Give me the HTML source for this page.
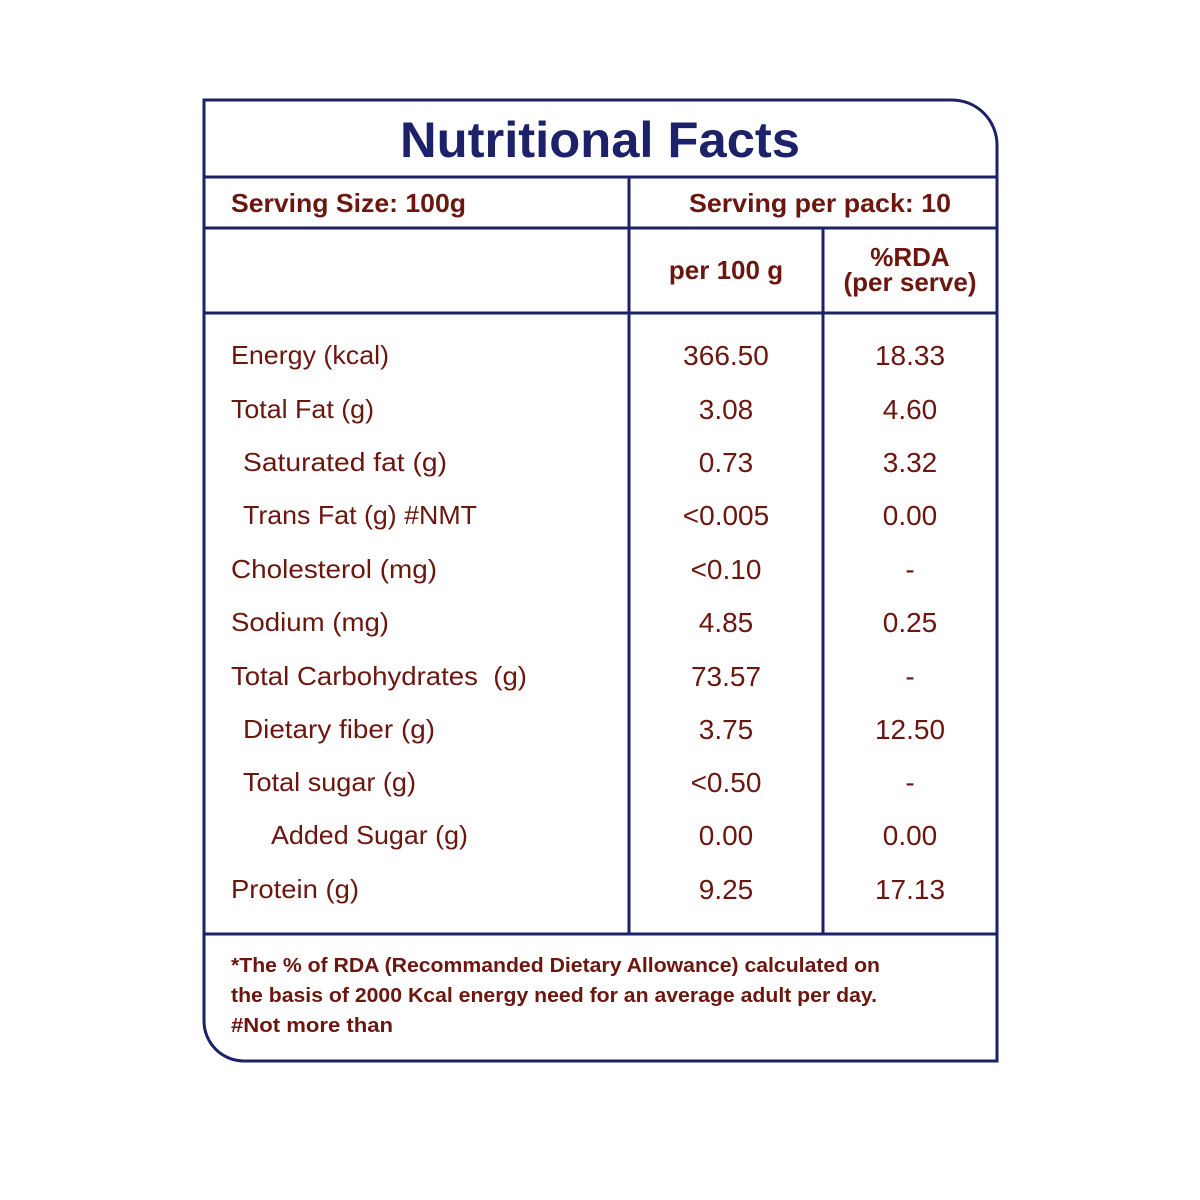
<!DOCTYPE html>
<html><head><style>body{margin:0;background:#fff}svg{display:block}</style></head>
<body>
<svg width="1200" height="1200" viewBox="0 0 1200 1200" xmlns="http://www.w3.org/2000/svg" font-family="Liberation Sans, sans-serif">
<rect width="1200" height="1200" fill="#fff"/>
<g stroke="#1c2169" stroke-width="3" fill="none">
<path d="M204,100 H952 A45,45 0 0 1 997,145 V1061 H244 A40,40 0 0 1 204,1021 Z"/>
<line x1="204" y1="177" x2="997" y2="177"/>
<line x1="204" y1="228" x2="997" y2="228"/>
<line x1="204" y1="313" x2="997" y2="313"/>
<line x1="204" y1="934" x2="997" y2="934"/>
<line x1="629" y1="177" x2="629" y2="934"/>
<line x1="823" y1="228" x2="823" y2="934"/>
</g>
<text x="400" y="157" font-size="50" font-weight="bold" fill="#1c2169" textLength="400" lengthAdjust="spacingAndGlyphs">Nutritional Facts</text>
<g fill="#6b160f" font-weight="bold" font-size="26">
<text x="231" y="212" textLength="235" lengthAdjust="spacingAndGlyphs">Serving Size: 100g</text>
<text x="689" y="212" textLength="262" lengthAdjust="spacingAndGlyphs">Serving per pack: 10</text>
<text x="726" y="279" text-anchor="middle">per 100 g</text>
<text x="910" y="266" text-anchor="middle">%RDA</text>
<text x="910" y="291" text-anchor="middle">(per serve)</text>
</g>
<g fill="#6b160f" font-size="26">
<text x="231" y="364" textLength="158" lengthAdjust="spacingAndGlyphs">Energy (kcal)</text>
<text x="231" y="418" textLength="143" lengthAdjust="spacingAndGlyphs">Total Fat (g)</text>
<text x="243" y="471" textLength="204" lengthAdjust="spacingAndGlyphs">Saturated fat (g)</text>
<text x="243" y="524" textLength="234" lengthAdjust="spacingAndGlyphs">Trans Fat (g) #NMT</text>
<text x="231" y="578" textLength="206" lengthAdjust="spacingAndGlyphs">Cholesterol (mg)</text>
<text x="231" y="631" textLength="158" lengthAdjust="spacingAndGlyphs">Sodium (mg)</text>
<text x="231" y="685" textLength="296" lengthAdjust="spacingAndGlyphs" xml:space="preserve">Total Carbohydrates  (g)</text>
<text x="243" y="738" textLength="192" lengthAdjust="spacingAndGlyphs">Dietary fiber (g)</text>
<text x="243" y="791" textLength="173" lengthAdjust="spacingAndGlyphs">Total sugar (g)</text>
<text x="271" y="844" textLength="197" lengthAdjust="spacingAndGlyphs">Added Sugar (g)</text>
<text x="231" y="898" textLength="128" lengthAdjust="spacingAndGlyphs">Protein (g)</text>
</g>
<g fill="#6b160f" font-size="28" text-anchor="middle">
<text x="726" y="365">366.50</text><text x="910" y="365">18.33</text>
<text x="726" y="419">3.08</text><text x="910" y="419">4.60</text>
<text x="726" y="472">0.73</text><text x="910" y="472">3.32</text>
<text x="726" y="525">&lt;0.005</text><text x="910" y="525">0.00</text>
<text x="726" y="579">&lt;0.10</text><text x="910" y="579">-</text>
<text x="726" y="632">4.85</text><text x="910" y="632">0.25</text>
<text x="726" y="686">73.57</text><text x="910" y="686">-</text>
<text x="726" y="739">3.75</text><text x="910" y="739">12.50</text>
<text x="726" y="792">&lt;0.50</text><text x="910" y="792">-</text>
<text x="726" y="845">0.00</text><text x="910" y="845">0.00</text>
<text x="726" y="899">9.25</text><text x="910" y="899">17.13</text>
</g>
<g fill="#6b160f" font-size="20" font-weight="bold">
<text x="231" y="972" textLength="649" lengthAdjust="spacingAndGlyphs">*The % of RDA (Recommanded Dietary Allowance) calculated on</text>
<text x="231" y="1002" textLength="646" lengthAdjust="spacingAndGlyphs">the basis of 2000 Kcal energy need for an average adult per day.</text>
<text x="231" y="1032" textLength="162" lengthAdjust="spacingAndGlyphs">#Not more than</text>
</g>
</svg>
</body></html>
